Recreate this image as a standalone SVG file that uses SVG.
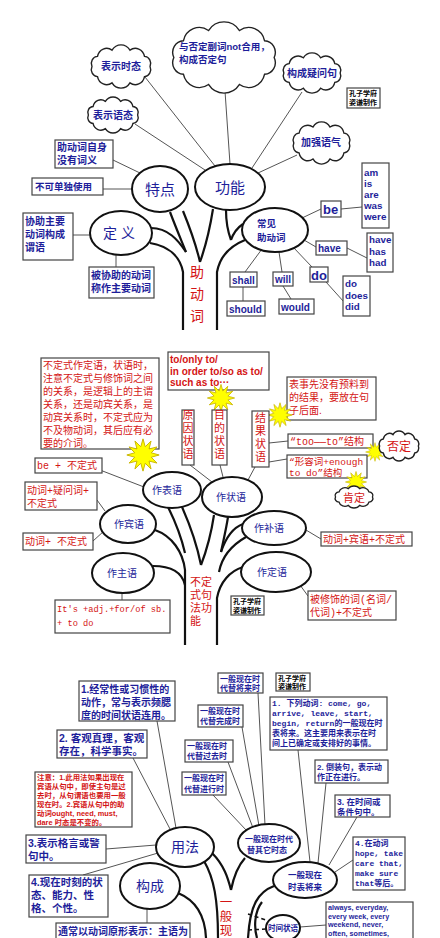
<svg xmlns="http://www.w3.org/2000/svg" width="440" height="938" viewBox="0 0 440 938">
<defs>
<style>
.cn{font-family:"Liberation Sans","Noto Sans CJK SC",sans-serif}
.bd{font-weight:bold}
.b{fill:#1e1e9a}
.r{fill:#d41414}
.k{fill:#000}
.box{fill:#fff;stroke:#444;stroke-width:1.2}
.ell{fill:#fff;stroke:#111;stroke-width:2}
.ln{stroke:#555;stroke-width:1;fill:none}
.tr{stroke:#111;stroke-width:2.2;fill:none}
.ar{font-family:"Liberation Sans","Noto Sans CJK SC",sans-serif;font-weight:bold}
.mo{font-family:"Liberation Mono","Noto Sans CJK SC",monospace}
.mid{text-anchor:middle}
.dash{stroke:#111;stroke-width:1.5;stroke-dasharray:4 3;fill:none}
</style>
<symbol id="cloud" viewBox="0 0 100 60" preserveAspectRatio="none" overflow="visible">
<path d="M94,30 A9.8,9.8 0 0 1 85.6,44.1 A14.2,14.2 0 0 1 63.6,52.8 A16.3,16.3 0 0 1 36.4,52.8 A14.2,14.2 0 0 1 14.4,44.1 A9.8,9.8 0 0 1 6,30 A9.8,9.8 0 0 1 14.4,15.9 A14.2,14.2 0 0 1 36.4,7.2 A16.3,16.3 0 0 1 63.6,7.2 A14.2,14.2 0 0 1 85.6,15.9 A9.8,9.8 0 0 1 94,30 Z" fill="#fff" stroke="#222" stroke-width="1.4" vector-effect="non-scaling-stroke"/>
</symbol>
<polygon id="burst" points="17,0 8.69,2.33 14.72,8.5 6.36,6.36 8.5,14.72 2.33,8.69 0,17 -2.33,8.69 -8.5,14.72 -6.36,6.36 -14.72,8.5 -8.69,2.33 -17,0 -8.69,-2.33 -14.72,-8.5 -6.36,-6.36 -8.5,-14.72 -2.33,-8.69 0,-17 2.33,-8.69 8.5,-14.72 6.36,-6.36 14.72,-8.5 8.69,-2.33" fill="#ffff00" stroke="#c8b400" stroke-width="1"/>
</defs>
<rect width="440" height="938" fill="#fff"/>

<g id="connectors">
<line class="ln" x1="145" y1="77" x2="215" y2="166"/>
<line class="ln" x1="135" y1="124" x2="205" y2="170"/>
<line class="ln" x1="225" y1="91" x2="230" y2="164"/>
<line class="ln" x1="302" y1="92" x2="252" y2="168"/>
<line class="ln" x1="297" y1="155" x2="258" y2="173"/>
<line class="ln" x1="113" y1="160" x2="140" y2="173"/>
<line class="ln" x1="103" y1="189" x2="132" y2="189"/>
<line class="ln" x1="73" y1="235" x2="90" y2="235"/>
<line class="ln" x1="116" y1="255" x2="116" y2="267"/>
<line class="ln" x1="302" y1="218" x2="321" y2="209"/>
<line class="ln" x1="341" y1="209" x2="362" y2="207"/>
<line class="ln" x1="304" y1="240" x2="316" y2="247"/>
<line class="ln" x1="347" y1="248" x2="367" y2="258"/>
<line class="ln" x1="293" y1="247" x2="312" y2="267"/>
<line class="ln" x1="326" y1="282" x2="344" y2="302"/>
<line class="ln" x1="262" y1="249" x2="245" y2="272"/>
<line class="ln" x1="243" y1="287" x2="243" y2="301"/>
<line class="ln" x1="279" y1="252" x2="282" y2="272"/>
<line class="ln" x1="283" y1="286" x2="291" y2="299"/>

<line class="ln" x1="100" y1="470" x2="144" y2="487"/>
<line class="ln" x1="97" y1="500" x2="105" y2="511"/>
<line class="ln" x1="93" y1="541" x2="104" y2="531"/>
<line class="ln" x1="122" y1="600" x2="122" y2="593"/>
<line class="ln" x1="190" y1="465" x2="212" y2="482"/>
<line class="ln" x1="220" y1="465" x2="223" y2="477"/>
<line class="ln" x1="255" y1="467" x2="248" y2="480"/>
<line class="ln" x1="269" y1="443" x2="288" y2="441"/>
<line class="ln" x1="269" y1="462" x2="287" y2="459"/>
<line class="ln" x1="306" y1="530" x2="321" y2="539"/>
<line class="ln" x1="300" y1="585" x2="308" y2="596"/>

<line class="ln" x1="157" y1="721" x2="176" y2="828"/>
<line class="ln" x1="133" y1="758" x2="170" y2="829"/>
<line class="ln" x1="106" y1="849" x2="156" y2="845"/>
<line class="ln" x1="83" y1="875" x2="158" y2="853"/>
<line class="ln" x1="147" y1="909" x2="147" y2="923"/>
<line class="ln" x1="258" y1="693" x2="265" y2="825"/>
<line class="ln" x1="242" y1="727" x2="259" y2="826"/>
<line class="ln" x1="228" y1="762" x2="253" y2="828"/>
<line class="ln" x1="213" y1="795" x2="247" y2="831"/>
<line class="ln" x1="298" y1="750" x2="310" y2="862"/>
<line class="ln" x1="326" y1="783" x2="318" y2="863"/>
<line class="ln" x1="357" y1="817" x2="329" y2="865"/>
<line class="ln" x1="353" y1="860" x2="335" y2="872"/>
<line class="ln" x1="300" y1="927" x2="326" y2="925"/>
</g>

<g id="trunk1">
<path class="tr" d="M151,228 C168,228 178,240 186,252"/>
<path class="tr" d="M170,212 C176,228 182,242 186,252"/>
<path class="tr" d="M183,211 C190,228 196,245 200,262"/>
<path class="tr" d="M213,209 C210,228 205,248 200,262"/>
<path class="tr" d="M226,210 C226,224 228,232 231,240"/>
<path class="tr" d="M243,224 C237,228 233,234 231,240"/>
<path class="tr" d="M245,240 C230,246 220,256 217,272 L217,330"/>
<path class="tr" d="M150,243 C168,246 180,256 183,272 L183,330"/>
</g>
<g id="trunk2">
<path class="tr" d="M155,530 C172,536 183,552 185,570 L185,645"/>
<path class="tr" d="M153,566 C170,566 182,572 185,585"/>
<path class="tr" d="M168,507 C177,525 182,540 185,553"/>
<path class="tr" d="M182,507 C190,525 197,545 201,565"/>
<path class="tr" d="M214,515 C211,535 206,552 201,565"/>
<path class="tr" d="M228,517 C226,530 223,542 221,552"/>
<path class="tr" d="M243,524 C232,528 225,540 221,552"/>
<path class="tr" d="M246,537 C232,545 222,556 219,572"/>
<path class="tr" d="M243,567 C230,571 220,582 217,598 L217,645"/>
</g>
<g id="trunk3">
<path class="tr" d="M204,861 C214,878 218,900 218,938"/>
<path class="tr" d="M212,853 C224,865 228,878 231,890"/>
<path class="tr" d="M245,858 C236,868 233,880 231,890"/>
<path class="tr" d="M274,886 C258,892 250,905 248,938"/>
<path class="tr" d="M178,893 C195,900 205,915 206,938"/>
<path class="tr" d="M262,902 C254,912 254,928 257,938"/>
<line class="dash" x1="248" y1="914" x2="266" y2="920"/>
<line class="dash" x1="248" y1="930" x2="266" y2="929"/>
</g>

<!-- Panel 1 -->
<g id="n-shitai"><use href="#cloud" x="88" y="45" width="66" height="43"/><text class="cn bd b mid" x="121" y="70" font-size="10">表示时态</text></g>
<g id="n-fouding"><use href="#cloud" x="167" y="22" width="114" height="71"/><text class="cn bd b" x="179" y="50" font-size="9.5">与否定副词not合用，</text><text class="cn bd b" x="179" y="63" font-size="9.5">构成否定句</text></g>
<g id="n-yiwen"><use href="#cloud" x="280" y="53" width="64" height="40"/><text class="cn bd b mid" x="312" y="77" font-size="10">构成疑问句</text></g>
<g id="n-yutai"><use href="#cloud" x="85" y="97" width="56" height="36"/><text class="cn bd b mid" x="113" y="119" font-size="10">表示语态</text></g>
<g id="n-jiaqiang"><use href="#cloud" x="290" y="122" width="63" height="42"/><text class="cn bd b mid" x="321" y="146" font-size="10">加强语气</text></g>
<g id="n-mark1"><rect class="box" x="347" y="88" width="33" height="20" stroke="#000"/><text class="cn bd k" x="349" y="96" font-size="7">孔子学府</text><text class="cn bd k" x="349" y="105" font-size="7">姿谦制作</text></g>
<g id="n-ciyi"><rect class="box" x="55" y="140" width="58" height="28"/><text class="cn bd b" x="57" y="151" font-size="10">助动词自身</text><text class="cn bd b" x="57" y="164" font-size="10">没有词义</text></g>
<g id="n-budan"><rect class="box" x="32" y="178" width="71" height="17"/><text class="cn bd b" x="35" y="190" font-size="9.5">不可单独使用</text></g>
<g id="n-tedian"><ellipse class="ell" cx="160" cy="189" rx="28" ry="23"/><text class="cn b mid" x="160" y="195" font-size="15">特点</text></g>
<g id="n-gongneng"><ellipse class="ell" cx="230" cy="187" rx="35" ry="23"/><text class="cn b mid" x="230" y="193" font-size="15">功能</text></g>
<g id="n-dingyi"><ellipse class="ell" cx="121" cy="233" rx="31" ry="22"/><text class="cn b mid" x="119" y="238" font-size="14">定 义</text></g>
<g id="n-xiezhu"><rect class="box" x="23" y="213" width="50" height="47"/><text class="cn bd b" x="25" y="225" font-size="10">协助主要</text><text class="cn bd b" x="25" y="238" font-size="10">动词构成</text><text class="cn bd b" x="25" y="251" font-size="10">谓语</text></g>
<g id="n-beixie"><rect class="box" x="89" y="267" width="65" height="31"/><text class="cn bd b" x="91" y="279" font-size="10">被协助的动词</text><text class="cn bd b" x="91" y="292" font-size="10">称作主要动词</text></g>
<g id="n-zhudongci"><text class="cn r mid" x="197" y="277" font-size="14">助</text><text class="cn r mid" x="197" y="299" font-size="14">动</text><text class="cn r mid" x="197" y="321" font-size="14">词</text></g>
<g id="n-changjian"><ellipse class="ell" cx="275" cy="230" rx="33" ry="22"/><text class="cn bd b" x="257" y="227" font-size="9.5">常见</text><text class="cn bd b" x="257" y="241" font-size="9.5">助动词</text></g>
<g id="n-be"><rect class="box" x="321" y="201" width="20" height="16"/><text class="ar b" x="323" y="214" font-size="13" font-weight="normal">be</text></g>
<g id="n-am"><rect class="box" x="362" y="163" width="27" height="65"/><text class="ar b" font-size="9.8"><tspan x="364" y="176">am</tspan><tspan x="364" y="187">is</tspan><tspan x="364" y="198">are</tspan><tspan x="364" y="209">was</tspan><tspan x="364" y="220">were</tspan></text></g>
<g id="n-have"><rect class="box" x="316" y="241" width="31" height="14"/><text class="ar b" x="318" y="252" font-size="10">have</text></g>
<g id="n-have3"><rect class="box" x="367" y="233" width="26" height="39"/><text class="ar b" font-size="9.8"><tspan x="369" y="243">have</tspan><tspan x="369" y="254.5">has</tspan><tspan x="369" y="266">had</tspan></text></g>
<g id="n-do"><rect class="box" x="310" y="267" width="18" height="15"/><text class="ar b" x="311" y="280" font-size="13" font-weight="normal">do</text></g>
<g id="n-do3"><rect class="box" x="343" y="276" width="27" height="40"/><text class="ar b" font-size="9.8"><tspan x="345" y="287">do</tspan><tspan x="345" y="298.5">does</tspan><tspan x="345" y="310">did</tspan></text></g>
<g id="n-shall"><rect class="box" x="230" y="272" width="27" height="15"/><text class="ar b" x="232" y="284" font-size="10">shall</text></g>
<g id="n-should"><rect class="box" x="227" y="301" width="38" height="15"/><text class="ar b" x="229" y="313" font-size="10">should</text></g>
<g id="n-will"><rect class="box" x="273" y="272" width="20" height="14"/><text class="ar b" x="275" y="283" font-size="10">will</text></g>
<g id="n-would"><rect class="box" x="279" y="299" width="35" height="15"/><text class="ar b" x="281" y="311" font-size="10">would</text></g>

<!-- Panel 2 -->
<g id="n-note2"><rect class="box" x="41" y="358" width="118" height="91"/>
<text class="cn r" font-size="10"><tspan x="43" y="369">不定式作定语，状语时，</tspan><tspan x="43" y="382">注意不定式与修饰词之间</tspan><tspan x="43" y="395">的关系，是逻辑上的主谓</tspan><tspan x="43" y="408">关系，还是动宾关系，是</tspan><tspan x="43" y="421">动宾关系时，不定式应为</tspan><tspan x="43" y="434">不及物动词，其后应有必</tspan><tspan x="43" y="447">要的介词。</tspan></text></g>
<g id="n-burst1"><use href="#burst" transform="translate(143 455) scale(0.95)"/></g>
<g id="n-toonly"><rect class="box" x="168" y="352" width="101" height="38"/><text class="ar r" font-size="10"><tspan x="170" y="363">to/only to/</tspan><tspan x="170" y="374.7">in order to/so as to/</tspan><tspan x="170" y="386.4">such as to···</tspan></text></g>
<g id="n-burst2"><use href="#burst" transform="translate(221 398) scale(0.8)"/></g>
<g id="n-yuanyin"><rect class="box" x="182" y="410" width="12" height="55"/><text class="cn r mid" font-size="11"><tspan x="188" y="419">原</tspan><tspan x="188" y="432">因</tspan><tspan x="188" y="445">状</tspan><tspan x="188" y="458">语</tspan></text></g>
<g id="n-mudi"><rect class="box" x="212" y="410" width="15" height="55"/><text class="cn r mid" font-size="11"><tspan x="219.5" y="419">目</tspan><tspan x="219.5" y="432">的</tspan><tspan x="219.5" y="445">状</tspan><tspan x="219.5" y="458">语</tspan></text></g>
<g id="n-shixian"><rect class="box" x="287" y="377" width="89" height="43"/><text class="cn r" font-size="10"><tspan x="289" y="388">表事先没有预料到</tspan><tspan x="289" y="401">的结果，要放在句</tspan><tspan x="289" y="414">子后面.</tspan></text></g>
<g id="n-burst3"><use href="#burst" transform="translate(280 415) scale(0.72)"/></g>
<g id="n-jieguo"><rect class="box" x="252" y="411" width="17" height="56"/><text class="cn r mid" font-size="11"><tspan x="260.5" y="422">结</tspan><tspan x="260.5" y="435">果</tspan><tspan x="260.5" y="448">状</tspan><tspan x="260.5" y="461">语</tspan></text></g>
<g id="n-tooto"><rect class="box" x="288" y="434" width="85" height="14"/><text class="mo r" x="290" y="445" font-size="10">“too——to”结构</text></g>
<g id="n-burst4"><use href="#burst" transform="translate(375 452) scale(0.55)"/></g>
<g id="n-foud"><use href="#cloud" x="377" y="431" width="44" height="30"/><text class="cn r mid" x="399" y="451" font-size="12">否定</text></g>
<g id="n-enough"><rect class="box" x="287" y="455" width="80" height="23"/><text class="mo r" font-size="9.5"><tspan x="289" y="465">“形容词+enough</tspan><tspan x="289" y="476">to do”结构</tspan></text></g>
<g id="n-burst5"><use href="#burst" transform="translate(356 482) scale(0.62)"/></g>
<g id="n-kend"><use href="#cloud" x="333" y="486" width="42" height="22"/><text class="cn r mid" x="354" y="502" font-size="11">肯定</text></g>
<g id="n-bebox"><rect class="box" x="35" y="458" width="67" height="15"/><text class="mo r" x="37" y="469" font-size="10">be + 不定式</text></g>
<g id="n-biaoyu"><ellipse class="ell" cx="172" cy="490" rx="29" ry="18"/><text class="cn b mid" x="167" y="494" font-size="10">作表语</text></g>
<g id="n-zhuangyu"><ellipse class="ell" cx="232" cy="497" rx="30" ry="20"/><text class="cn b mid" x="231" y="501" font-size="10">作状语</text></g>
<g id="n-yiwenci"><rect class="box" x="25" y="482" width="72" height="28"/><text class="mo r" font-size="10"><tspan x="27" y="494">动词+疑问词+</tspan><tspan x="27" y="507">不定式</tspan></text></g>
<g id="n-binyu"><ellipse class="ell" cx="128" cy="524" rx="28" ry="19"/><text class="cn b mid" x="129" y="528" font-size="10">作宾语</text></g>
<g id="n-dongci"><rect class="box" x="23" y="533" width="70" height="17"/><text class="mo r" x="25" y="545" font-size="10">动词+ 不定式</text></g>
<g id="n-zhuyu"><ellipse class="ell" cx="123" cy="573" rx="31" ry="20"/><text class="cn b mid" x="122" y="577" font-size="10">作主语</text></g>
<g id="n-its"><rect class="box" x="55" y="600" width="115" height="33"/><text class="mo r" font-size="8.7"><tspan x="57" y="612">It's +adj.+for/of sb.</tspan><tspan x="57" y="626">+ to do</tspan></text></g>
<g id="n-bdsgn"><text class="cn r" font-size="11"><tspan x="190" y="586">不定</tspan><tspan x="190" y="599">式句</tspan><tspan x="190" y="612">法功</tspan><tspan x="190" y="625">能</tspan></text></g>
<g id="n-buyu"><ellipse class="ell" cx="274" cy="528" rx="32" ry="17"/><text class="cn b mid" x="269" y="532" font-size="10">作补语</text></g>
<g id="n-dcby"><rect class="box" x="321" y="532" width="91" height="14"/><text class="mo r" x="323" y="543" font-size="10">动词+宾语+不定式</text></g>
<g id="n-dingyu"><ellipse class="ell" cx="276" cy="572" rx="35" ry="20"/><text class="cn b mid" x="272" y="576" font-size="10">作定语</text></g>
<g id="n-bxs"><rect class="box" x="308" y="591" width="88" height="29"/><text class="mo r" font-size="10"><tspan x="310" y="603">被修饰的词(名词/</tspan><tspan x="310" y="616">代词)+不定式</tspan></text></g>
<g id="n-mark2"><rect class="box" x="231" y="596" width="33" height="19" stroke="#000"/><text class="cn bd k" x="233" y="604" font-size="7">孔子学府</text><text class="cn bd k" x="233" y="613" font-size="7">姿谦制作</text></g>

<!-- Panel 3 -->
<g id="n-u1"><rect class="box" x="79" y="681" width="96" height="40"/><text class="cn bd b" font-size="10"><tspan x="81" y="693">1.经常性或习惯性的</tspan><tspan x="81" y="706">动作，常与表示频腮</tspan><tspan x="81" y="719">度的时间状语连用。</tspan></text></g>
<g id="n-u2"><rect class="box" x="57" y="730" width="90" height="28"/><text class="cn bd b" font-size="10.5"><tspan x="59" y="742">2. 客观真理，客观</tspan><tspan x="59" y="755">存在，科学事实。</tspan></text></g>
<g id="n-note3"><rect class="box" x="35" y="772" width="97" height="55"/><text class="cn bd r" font-size="7.4"><tspan x="37" y="780">注意：1.此用法如果出现在</tspan><tspan x="37" y="789">宾语从句中，即使主句是过</tspan><tspan x="37" y="798">去时，从句谓语也要用一般</tspan><tspan x="37" y="807">现在时。2.宾语从句中的助</tspan><tspan x="37" y="816">动词ought, need, must,</tspan><tspan x="37" y="825">dare 时态是不变的。</tspan></text></g>
<g id="n-u3"><rect class="box" x="26" y="835" width="80" height="28"/><text class="cn bd b" font-size="10.5"><tspan x="28" y="847">3.表示格言或警</tspan><tspan x="28" y="860">句中。</tspan></text></g>
<g id="n-yongfa"><ellipse class="ell" cx="185" cy="847" rx="29" ry="20"/><text class="cn b mid" x="185" y="852" font-size="14">用法</text></g>
<g id="n-u4"><rect class="box" x="29" y="875" width="79" height="42"/><text class="cn bd b" font-size="10.5"><tspan x="31" y="886">4.现在时刻的状</tspan><tspan x="31" y="899">态、能力、性</tspan><tspan x="31" y="912">格、个性。</tspan></text></g>
<g id="n-goucheng"><ellipse class="ell" cx="150" cy="886" rx="30" ry="23"/><text class="cn b mid" x="150" y="891" font-size="14">构成</text></g>
<g id="n-tongchang"><rect class="box" x="56" y="923" width="134" height="20"/><text class="cn bd b" x="58" y="935" font-size="10">通常以动词原形表示：主语为</text></g>
<g id="n-yiban"><text class="cn r mid" font-size="12.5"><tspan x="226" y="907">一</tspan><tspan x="226" y="921">般</tspan><tspan x="226" y="935">现</tspan></text></g>
<g id="n-d1"><rect class="box" x="218" y="673" width="45" height="20"/><text class="cn bd b" font-size="8"><tspan x="220" y="682">一般现在时</tspan><tspan x="220" y="691">代替将来时</tspan></text></g>
<g id="n-mark3"><rect class="box" x="276" y="673" width="34" height="18" stroke="#000"/><text class="cn bd k" x="278" y="681" font-size="7">孔子学府</text><text class="cn bd k" x="278" y="689" font-size="7">姿谦制作</text></g>
<g id="n-d2"><rect class="box" x="198" y="705" width="45" height="22"/><text class="cn bd b" font-size="8"><tspan x="200" y="714">一般现在时</tspan><tspan x="200" y="724">代替完成时</tspan></text></g>
<g id="n-d3"><rect class="box" x="185" y="740" width="48" height="22"/><text class="cn bd b" font-size="8"><tspan x="187" y="749">一般现在时</tspan><tspan x="187" y="759">代替过去时</tspan></text></g>
<g id="n-d4"><rect class="box" x="182" y="772" width="44" height="23"/><text class="cn bd b" font-size="8"><tspan x="184" y="781">一般现在时</tspan><tspan x="184" y="792">代替进行时</tspan></text></g>
<g id="n-r1"><rect class="box" x="270" y="697" width="117" height="53"/><text class="mo bd b" font-size="8"><tspan x="272" y="706">1. 下列动词: come, go,</tspan><tspan x="272" y="716">arrive, leave, start,</tspan><tspan x="272" y="726">begin, return的一般现在时</tspan><tspan x="272" y="736">表将来。这主要用来表示在时</tspan><tspan x="272" y="746">间上已确定或安排好的事情。</tspan></text></g>
<g id="n-r2"><rect class="box" x="315" y="760" width="73" height="23"/><text class="cn bd b" font-size="8"><tspan x="317" y="770">2. 倒装句，表示动</tspan><tspan x="317" y="780">作正在进行。</tspan></text></g>
<g id="n-r3"><rect class="box" x="335" y="795" width="55" height="22"/><text class="cn bd b" font-size="8.5"><tspan x="337" y="805">3. 在时间或</tspan><tspan x="337" y="815">条件句中。</tspan></text></g>
<g id="n-daiti"><ellipse class="ell" cx="269" cy="843" rx="31" ry="19"/><text class="cn bd b mid" font-size="8"><tspan x="269" y="842">一般现在时代</tspan><tspan x="267" y="853">替其它时态</tspan></text></g>
<g id="n-r4"><rect class="box" x="353" y="837" width="52" height="53"/><text class="mo bd b" font-size="8"><tspan x="355" y="846">4.在动词</tspan><tspan x="355" y="856">hope, take</tspan><tspan x="355" y="866">care that,</tspan><tspan x="355" y="876">make sure</tspan><tspan x="355" y="886">that等后。</tspan></text></g>
<g id="n-jianglai"><ellipse class="ell" cx="305" cy="880" rx="32" ry="18"/><text class="cn bd b mid" font-size="8.5"><tspan x="305" y="878">一般现在</tspan><tspan x="305" y="890">时表将来</tspan></text></g>
<g id="n-always"><rect class="box" x="326" y="902" width="87" height="40"/><text class="ar b" font-size="7.2"><tspan x="328" y="910">always, everyday,</tspan><tspan x="328" y="918.7">every week, every</tspan><tspan x="328" y="927.4">weekend, never,</tspan><tspan x="328" y="936">often, sometimes,</tspan></text></g>
<g id="n-shijian"><ellipse class="ell" cx="283" cy="928" rx="17" ry="13"/><text class="cn bd b mid" x="283" y="931" font-size="7.5">时间状语</text></g>
</svg>
